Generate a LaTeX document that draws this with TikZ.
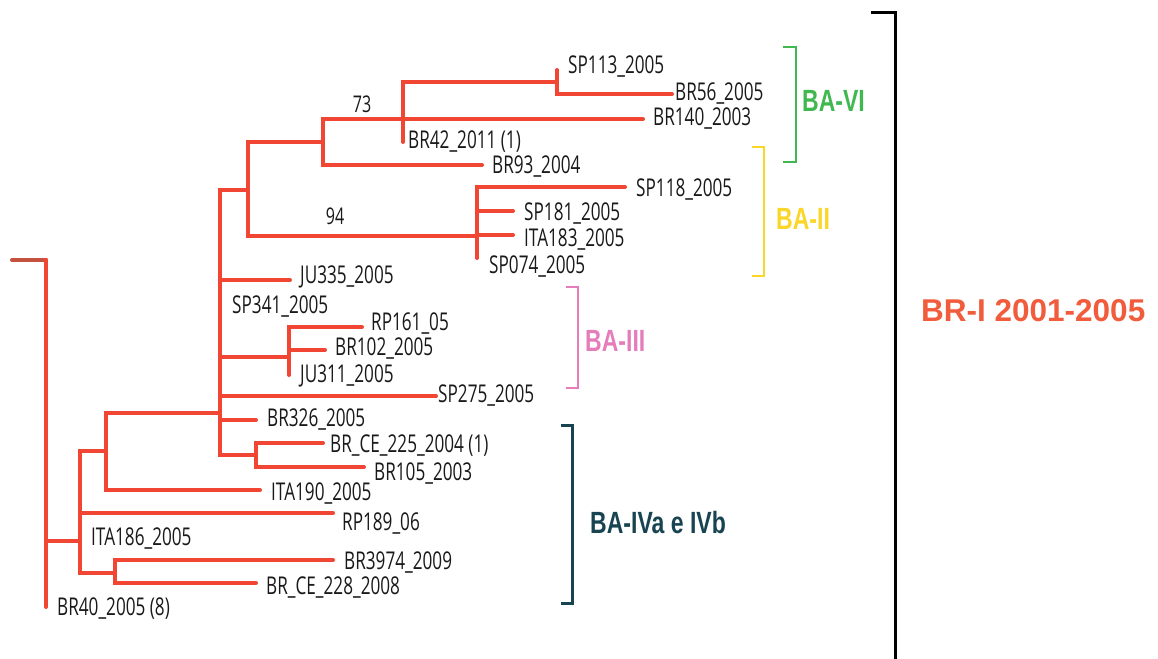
\documentclass[tikz,border=0pt]{standalone}
\usepackage{fontspec}
\newfontfamily\labfont[FakeStretch=0.70]{Open Sans}
\newfontfamily\cladefont[FakeStretch=0.75]{Liberation Sans}
\newfontfamily\bigfont{Liberation Sans}
\definecolor{treered}{RGB}{242,70,52}
\definecolor{stubred}{RGB}{196,82,60}
\definecolor{bagreen}{RGB}{64,184,80}
\definecolor{bayellow}{RGB}{250,214,40}
\definecolor{bapink}{RGB}{228,125,185}
\definecolor{bateal}{RGB}{24,68,82}
\definecolor{brorange}{RGB}{240,92,60}
\begin{document}
\begin{tikzpicture}[x=1pt,y=-1pt,
  branch/.style={draw=treered, line width=4pt, line cap=round},
  stub/.style={draw=stubred, line width=4pt, line cap=round},
  lab/.style={anchor=west, inner sep=0pt, text=black!90, font=\labfont\fontsize{24.5}{26}\selectfont, text height=17.5pt, text depth=0pt},
  boot/.style={anchor=center, inner sep=0pt, text=black!90, font=\labfont\fontsize{23}{26}\selectfont, text height=16.4pt, text depth=0pt},
  clade/.style={anchor=west, inner sep=0pt, font=\cladefont\bfseries\fontsize{30.7}{32}\selectfont, text height=22pt, text depth=0pt},
  bracket/.style={line width=2.2pt},
]
\useasboundingbox (0,0) rectangle (1158,658);
% internal nodes
\coordinate (R0) at (12,260);
\coordinate (R) at (46,260);
\coordinate (A) at (80,541);
\coordinate (B) at (106,451);
\coordinate (C) at (220,413);
\coordinate (D) at (115,573);
\coordinate (E) at (248,190);
\coordinate (F) at (323,142);
\coordinate (G) at (403,119);
\coordinate (H) at (557,82);
\coordinate (I) at (477,236);
\coordinate (J) at (289,357);
\coordinate (K) at (256,455);
% tips
\coordinate (tSP113) at (557,70);
\coordinate (tBR56) at (672,94);
\coordinate (tBR140) at (643,119);
\coordinate (tBR42) at (403,142);
\coordinate (tBR93) at (482,165);
\coordinate (tSP118) at (625,187);
\coordinate (tSP181) at (513,211);
\coordinate (tITA183) at (513,235);
\coordinate (tSP074) at (477,258);
\coordinate (tJU335) at (290,280);
\coordinate (tRP161) at (362,327);
\coordinate (tBR102) at (325,350);
\coordinate (tJU311) at (289,375);
\coordinate (tSP275) at (436,396);
\coordinate (tBR326) at (256,420);
\coordinate (tBRCE225) at (323,443);
\coordinate (tBR105) at (364,467);
\coordinate (tITA190) at (260,490);
\coordinate (tRP189) at (333,513);
\coordinate (tBR3974) at (333,560);
\coordinate (tBRCE228) at (256,583);
\coordinate (tBR40) at (46,607);
% branches
\draw[stub] (R0) -- (R);
\draw[branch] (R) |- (A);
\draw[branch] (R) |- (tBR40);
\draw[branch] (A) |- (B);
\draw[branch] (A) |- (tRP189);
\draw[branch] (A) |- (D);
\draw[branch] (B) |- (C);
\draw[branch] (B) |- (tITA190);
\draw[branch] (D) |- (tBR3974);
\draw[branch] (D) |- (tBRCE228);
\draw[branch] (C) |- (E);
\draw[branch] (C) |- (tJU335);
\draw[branch] (C) |- (J);
\draw[branch] (C) |- (tSP275);
\draw[branch] (C) |- (tBR326);
\draw[branch] (C) |- (K);
\draw[branch] (E) |- (F);
\draw[branch] (E) |- (I);
\draw[branch] (F) |- (G);
\draw[branch] (F) |- (tBR93);
\draw[branch] (G) |- (H);
\draw[branch] (G) |- (tBR140);
\draw[branch] (G) |- (tBR42);
\draw[branch] (H) |- (tSP113);
\draw[branch] (H) |- (tBR56);
\draw[branch] (I) |- (tSP118);
\draw[branch] (I) |- (tSP181);
\draw[branch] (I) |- (tITA183);
\draw[branch] (I) |- (tSP074);
\draw[branch] (J) |- (tRP161);
\draw[branch] (J) |- (tBR102);
\draw[branch] (J) |- (tJU311);
\draw[branch] (K) |- (tBRCE225);
\draw[branch] (K) |- (tBR105);
% labels
\node[lab] (lSP113) at (568,65) {SP113\_2005};
\node[lab] (lBR56) at (675,92) {BR56\_2005};
\node[lab] (lBR140) at (653,117) {BR140\_2003};
\node[lab] (lBR42) at (408,140) {BR42\_2011 (1)};
\node[lab] (lBR93) at (492,165) {BR93\_2004};
\node[lab] (lSP118) at (636,188) {SP118\_2005};
\node[lab] (lSP181) at (524,212) {SP181\_2005};
\node[lab] (lITA183) at (524,238) {ITA183\_2005};
\node[lab] (lSP074) at (489,265) {SP074\_2005};
\node[lab] (lJU335) at (300,275) {JU335\_2005};
\node[lab] (lSP341) at (232,305) {SP341\_2005};
\node[lab] (lRP161) at (371,322) {RP161\_05};
\node[lab] (lBR102) at (335,347) {BR102\_2005};
\node[lab] (lJU311) at (300,374) {JU311\_2005};
\node[lab] (lSP275) at (438,394) {SP275\_2005};
\node[lab] (lBR326) at (267,418) {BR326\_2005};
\node[lab] (lBRCE225) at (330,444) {BR\_CE\_225\_2004 (1)};
\node[lab] (lBR105) at (374,472) {BR105\_2003};
\node[lab] (lITA190) at (271,492) {ITA190\_2005};
\node[lab] (lRP189) at (342,522) {RP189\_06};
\node[lab] (lITA186) at (91,537) {ITA186\_2005};
\node[lab] (lBR3974) at (344,561) {BR3974\_2009};
\node[lab] (lBRCE228) at (266,586) {BR\_CE\_228\_2008};
\node[lab] (lBR40) at (57,607) {BR40\_2005 (8)};
\node[boot] (b73) at (362,104) {73};
\node[boot] (b94) at (335,216) {94};
% clade brackets
\draw[bracket, bagreen] (783,47) -- (796,47) -- (796,162) -- (783,162);
\draw[bracket, bayellow] (752,147) -- (764,147) -- (764,276) -- (752,276);
\draw[bracket, bapink] (566,287) -- (578,287) -- (578,388) -- (566,388);
\draw[bracket, bateal, line width=3pt] (561,425) -- (572,425) -- (572,603) -- (561,603);
\draw[black, line width=3pt] (871,13) -- (895,13) -- (895,660);
\node[clade, text=bagreen] (cVI) at (802,100) {BA-VI};
\node[clade, text=bayellow] (cII) at (776,218) {BA-II};
\node[clade, text=bapink] (cIII) at (585,340) {BA-III};
\node[clade, text=bateal] (cIV) at (590,522) {BA-IVa e IVb};
\node[anchor=west, inner sep=0pt, text=brorange, font=\bigfont\bfseries\fontsize{31.5}{34}\selectfont, text height=22.6pt, text depth=0pt] (cBR) at (921,310) {BR-I 2001-2005};
\end{tikzpicture}
\end{document}
